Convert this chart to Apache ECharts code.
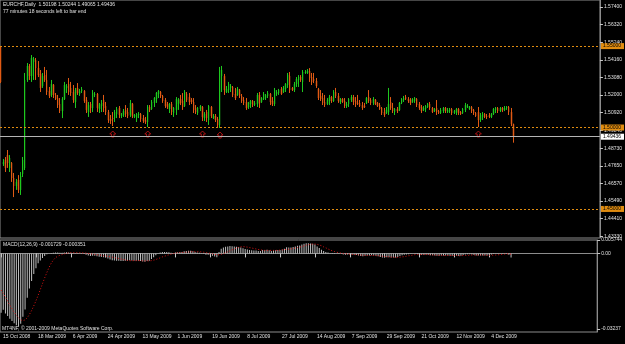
<!DOCTYPE html>
<html>
<head>
<meta charset="utf-8">
<title>EURCHF Daily</title>
<script src="https://cdn.jsdelivr.net/npm/echarts@6/dist/echarts.min.js"></script>
<style>
  html, body { margin: 0; padding: 0; background: #000; }
  #chart { width: 625px; height: 344px; }
</style>
</head>
<body>
<div id="chart"></div>
<script>
// date labels under the MACD pane, one every 16 bars
var tickLabels = ['15 Oct 2008', '18 Mar 2009', '6 Apr 2009', '24 Apr 2009', '13 May 2009', '1 Jun 2009',
  '19 Jun 2009', '8 Jul 2009', '27 Jul 2009', '14 Aug 2009', '7 Sep 2009', '29 Sep 2009',
  '21 Oct 2009', '12 Nov 2009', '4 Dec 2009'];
var barsPerLabel = 16;
var slots = 274; // bar slots across the pane, the right part stays empty

var opens = [
  1.5494, 1.4776, 1.4801, 1.4831, 1.4752, 1.4782, 1.4690, 1.4641, 1.4678, 1.4617,
  1.4715, 1.4752, 1.5292, 1.5378, 1.5316, 1.5402, 1.5415, 1.5365, 1.5329, 1.5255,
  1.5322, 1.5292, 1.5224, 1.5200, 1.5261, 1.5200, 1.5181, 1.5144, 1.5101, 1.5175,
  1.5243, 1.5267, 1.5243, 1.5218, 1.5157, 1.5243, 1.5206, 1.5224, 1.5224, 1.5169,
  1.5095, 1.5144, 1.5120, 1.5200, 1.5206, 1.5114, 1.5132, 1.5169, 1.5132, 1.5095,
  1.5052, 1.5058, 1.5058, 1.5083, 1.5120, 1.5071, 1.5077, 1.5108, 1.5095, 1.5077,
  1.5144, 1.5065, 1.5058, 1.5077, 1.5083, 1.5058, 1.5046, 1.5034, 1.5126, 1.5114,
  1.5151, 1.5175, 1.5206, 1.5218, 1.5194, 1.5169, 1.5144, 1.5114, 1.5144, 1.5089,
  1.5108, 1.5144, 1.5175, 1.5163, 1.5132, 1.5206, 1.5187, 1.5169, 1.5157, 1.5120,
  1.5089, 1.5114, 1.5126, 1.5058, 1.5095, 1.5046, 1.5126, 1.5058, 1.5071, 1.5052,
  1.5016, 1.5316, 1.5316, 1.5218, 1.5230, 1.5243, 1.5249, 1.5206, 1.5200, 1.5230,
  1.5194, 1.5169, 1.5157, 1.5126, 1.5144, 1.5163, 1.5138, 1.5144, 1.5200, 1.5157,
  1.5175, 1.5181, 1.5194, 1.5206, 1.5163, 1.5144, 1.5206, 1.5212, 1.5237, 1.5218,
  1.5237, 1.5261, 1.5316, 1.5243, 1.5230, 1.5267, 1.5292, 1.5310, 1.5280, 1.5335,
  1.5335, 1.5347, 1.5310, 1.5298, 1.5286, 1.5237, 1.5194, 1.5181, 1.5157, 1.5144,
  1.5163, 1.5187, 1.5163, 1.5218, 1.5194, 1.5157, 1.5175, 1.5163, 1.5132, 1.5144,
  1.5169, 1.5187, 1.5163, 1.5151, 1.5151, 1.5138, 1.5132, 1.5151, 1.5187, 1.5169,
  1.5151, 1.5169, 1.5151, 1.5138, 1.5120, 1.5095, 1.5089, 1.5095, 1.5157, 1.5120,
  1.5095, 1.5114, 1.5108, 1.5151, 1.5169, 1.5187, 1.5175, 1.5169, 1.5157, 1.5163,
  1.5175, 1.5144, 1.5126, 1.5108, 1.5114, 1.5126, 1.5144, 1.5120, 1.5101, 1.5120,
  1.5101, 1.5089, 1.5101, 1.5120, 1.5095, 1.5101, 1.5114, 1.5089, 1.5095, 1.5114,
  1.5095, 1.5089, 1.5108, 1.5126, 1.5114, 1.5126, 1.5108, 1.5089, 1.5095, 1.5046,
  1.5065, 1.5083, 1.5071, 1.5077, 1.5065, 1.5083, 1.5108, 1.5120, 1.5101, 1.5120,
  1.5108, 1.5120, 1.5126, 1.5095, 1.5020
];
var closes = [
  1.5280, 1.4788, 1.4752, 1.4782, 1.4813, 1.4690, 1.4641, 1.4666, 1.4617, 1.4702,
  1.4801, 1.5292, 1.5378, 1.5316, 1.5427, 1.5421, 1.5365, 1.5322, 1.5243, 1.5316,
  1.5292, 1.5218, 1.5194, 1.5267, 1.5200, 1.5175, 1.5138, 1.5101, 1.5175, 1.5261,
  1.5255, 1.5218, 1.5212, 1.5169, 1.5230, 1.5212, 1.5224, 1.5237, 1.5163, 1.5108,
  1.5138, 1.5120, 1.5212, 1.5206, 1.5120, 1.5144, 1.5151, 1.5120, 1.5095, 1.5046,
  1.5040, 1.5052, 1.5095, 1.5114, 1.5077, 1.5077, 1.5101, 1.5083, 1.5071, 1.5151,
  1.5071, 1.5077, 1.5083, 1.5083, 1.5052, 1.5040, 1.5034, 1.5126, 1.5108, 1.5157,
  1.5181, 1.5212, 1.5224, 1.5194, 1.5163, 1.5132, 1.5126, 1.5144, 1.5095, 1.5120,
  1.5175, 1.5169, 1.5151, 1.5126, 1.5218, 1.5169, 1.5157, 1.5157, 1.5108, 1.5095,
  1.5120, 1.5132, 1.5065, 1.5083, 1.5058, 1.5132, 1.5071, 1.5071, 1.5046, 1.5016,
  1.5353, 1.5353, 1.5230, 1.5237, 1.5267, 1.5255, 1.5200, 1.5181, 1.5237, 1.5194,
  1.5163, 1.5151, 1.5120, 1.5151, 1.5163, 1.5138, 1.5151, 1.5200, 1.5151, 1.5181,
  1.5206, 1.5200, 1.5212, 1.5157, 1.5144, 1.5230, 1.5218, 1.5230, 1.5206, 1.5243,
  1.5267, 1.5322, 1.5230, 1.5230, 1.5267, 1.5298, 1.5310, 1.5292, 1.5341, 1.5341,
  1.5347, 1.5304, 1.5280, 1.5286, 1.5255, 1.5181, 1.5175, 1.5151, 1.5138, 1.5169,
  1.5187, 1.5163, 1.5218, 1.5194, 1.5163, 1.5175, 1.5157, 1.5132, 1.5144, 1.5175,
  1.5187, 1.5157, 1.5144, 1.5144, 1.5132, 1.5120, 1.5126, 1.5181, 1.5163, 1.5151,
  1.5175, 1.5144, 1.5132, 1.5114, 1.5089, 1.5077, 1.5108, 1.5144, 1.5120, 1.5101,
  1.5114, 1.5101, 1.5151, 1.5175, 1.5181, 1.5175, 1.5163, 1.5151, 1.5175, 1.5181,
  1.5138, 1.5120, 1.5101, 1.5120, 1.5132, 1.5144, 1.5120, 1.5095, 1.5114, 1.5095,
  1.5089, 1.5108, 1.5120, 1.5101, 1.5108, 1.5114, 1.5089, 1.5101, 1.5114, 1.5089,
  1.5083, 1.5114, 1.5138, 1.5132, 1.5126, 1.5101, 1.5089, 1.5071, 1.5046, 1.5077,
  1.5083, 1.5065, 1.5065, 1.5065, 1.5083, 1.5114, 1.5120, 1.5101, 1.5120, 1.5108,
  1.5120, 1.5126, 1.5095, 1.5022, 1.4944
];
var lows = [
  1.5273, 1.4764, 1.4727, 1.4752, 1.4727, 1.4666, 1.4573, 1.4617, 1.4598, 1.4586,
  1.4696, 1.4739, 1.5280, 1.5292, 1.5280, 1.5292, 1.5292, 1.5310, 1.5218, 1.5243,
  1.5280, 1.5200, 1.5181, 1.5187, 1.5181, 1.5169, 1.5120, 1.5089, 1.5058, 1.5169,
  1.5212, 1.5200, 1.5194, 1.5151, 1.5120, 1.5200, 1.5194, 1.5212, 1.5151, 1.5089,
  1.5065, 1.5089, 1.5095, 1.5187, 1.5095, 1.5089, 1.5095, 1.5095, 1.5077, 1.5028,
  1.5022, 1.5009, 1.5034, 1.5058, 1.5058, 1.5058, 1.5065, 1.5065, 1.5058, 1.5065,
  1.5058, 1.5058, 1.5034, 1.5058, 1.5034, 1.5028, 1.5022, 1.5003, 1.5095, 1.5108,
  1.5126, 1.5151, 1.5181, 1.5181, 1.5151, 1.5120, 1.5114, 1.5089, 1.5077, 1.5065,
  1.5077, 1.5108, 1.5138, 1.5108, 1.5126, 1.5157, 1.5138, 1.5144, 1.5089, 1.5083,
  1.5077, 1.5101, 1.5040, 1.5040, 1.5034, 1.5016, 1.5058, 1.5052, 1.5034, 1.5003,
  1.4997, 1.5218, 1.5200, 1.5212, 1.5212, 1.5218, 1.5187, 1.5169, 1.5194, 1.5181,
  1.5151, 1.5138, 1.5108, 1.5114, 1.5120, 1.5126, 1.5132, 1.5126, 1.5120, 1.5151,
  1.5169, 1.5169, 1.5181, 1.5138, 1.5132, 1.5132, 1.5194, 1.5200, 1.5200, 1.5212,
  1.5218, 1.5243, 1.5212, 1.5224, 1.5218, 1.5249, 1.5249, 1.5280, 1.5218, 1.5329,
  1.5329, 1.5280, 1.5261, 1.5273, 1.5243, 1.5169, 1.5163, 1.5138, 1.5126, 1.5138,
  1.5138, 1.5151, 1.5157, 1.5181, 1.5151, 1.5144, 1.5151, 1.5120, 1.5120, 1.5126,
  1.5157, 1.5138, 1.5126, 1.5138, 1.5126, 1.5108, 1.5120, 1.5144, 1.5151, 1.5138,
  1.5138, 1.5138, 1.5126, 1.5108, 1.5077, 1.5065, 1.5083, 1.5077, 1.5108, 1.5089,
  1.5077, 1.5089, 1.5101, 1.5144, 1.5157, 1.5169, 1.5151, 1.5138, 1.5151, 1.5151,
  1.5126, 1.5108, 1.5089, 1.5101, 1.5095, 1.5120, 1.5108, 1.5089, 1.5095, 1.5077,
  1.5083, 1.5083, 1.5089, 1.5089, 1.5089, 1.5089, 1.5077, 1.5083, 1.5077, 1.5077,
  1.5077, 1.5083, 1.5095, 1.5120, 1.5108, 1.5089, 1.5077, 1.5065, 1.5003, 1.5034,
  1.5046, 1.5058, 1.5052, 1.5058, 1.5058, 1.5077, 1.5089, 1.5089, 1.5095, 1.5095,
  1.5101, 1.5108, 1.5077, 1.5009, 1.4907
];
var highs = [
  1.5501, 1.4807, 1.4819, 1.4862, 1.4831, 1.4788, 1.4721, 1.4684, 1.4708, 1.4727,
  1.4819, 1.5335, 1.5396, 1.5390, 1.5445, 1.5433, 1.5427, 1.5408, 1.5353, 1.5335,
  1.5372, 1.5353, 1.5249, 1.5292, 1.5267, 1.5212, 1.5200, 1.5181, 1.5187, 1.5280,
  1.5267, 1.5304, 1.5280, 1.5261, 1.5243, 1.5273, 1.5237, 1.5249, 1.5230, 1.5187,
  1.5157, 1.5157, 1.5230, 1.5218, 1.5212, 1.5151, 1.5169, 1.5200, 1.5157, 1.5108,
  1.5077, 1.5095, 1.5108, 1.5126, 1.5132, 1.5089, 1.5114, 1.5138, 1.5120, 1.5169,
  1.5151, 1.5083, 1.5089, 1.5095, 1.5089, 1.5077, 1.5065, 1.5138, 1.5138, 1.5169,
  1.5187, 1.5218, 1.5230, 1.5224, 1.5200, 1.5181, 1.5157, 1.5151, 1.5157, 1.5126,
  1.5187, 1.5181, 1.5200, 1.5212, 1.5230, 1.5218, 1.5212, 1.5181, 1.5181, 1.5138,
  1.5126, 1.5138, 1.5132, 1.5095, 1.5108, 1.5138, 1.5132, 1.5083, 1.5083, 1.5065,
  1.5372, 1.5378, 1.5329, 1.5255, 1.5280, 1.5267, 1.5255, 1.5243, 1.5249, 1.5237,
  1.5206, 1.5187, 1.5181, 1.5157, 1.5169, 1.5169, 1.5163, 1.5212, 1.5218, 1.5187,
  1.5218, 1.5206, 1.5224, 1.5212, 1.5187, 1.5243, 1.5230, 1.5237, 1.5249, 1.5255,
  1.5273, 1.5335, 1.5341, 1.5249, 1.5280, 1.5310, 1.5322, 1.5322, 1.5353, 1.5353,
  1.5359, 1.5365, 1.5335, 1.5335, 1.5304, 1.5243, 1.5230, 1.5212, 1.5200, 1.5181,
  1.5200, 1.5194, 1.5230, 1.5243, 1.5212, 1.5181, 1.5181, 1.5181, 1.5157, 1.5181,
  1.5200, 1.5200, 1.5187, 1.5200, 1.5169, 1.5157, 1.5151, 1.5187, 1.5230, 1.5181,
  1.5187, 1.5175, 1.5157, 1.5151, 1.5126, 1.5120, 1.5126, 1.5243, 1.5187, 1.5151,
  1.5120, 1.5126, 1.5157, 1.5181, 1.5194, 1.5200, 1.5187, 1.5181, 1.5181, 1.5187,
  1.5181, 1.5157, 1.5138, 1.5132, 1.5138, 1.5151, 1.5157, 1.5126, 1.5120, 1.5169,
  1.5108, 1.5120, 1.5126, 1.5126, 1.5120, 1.5120, 1.5120, 1.5108, 1.5120, 1.5120,
  1.5101, 1.5120, 1.5151, 1.5144, 1.5132, 1.5132, 1.5114, 1.5095, 1.5126, 1.5089,
  1.5095, 1.5089, 1.5083, 1.5089, 1.5089, 1.5120, 1.5126, 1.5126, 1.5126, 1.5126,
  1.5132, 1.5132, 1.5132, 1.5120, 1.5024
];

// MACD(12,26,9): main line (histogram) and signal line (dotted)
var macdMain = [
  -0.0254, -0.0242, -0.0258, -0.0268, -0.0280, -0.0290, -0.0300, -0.0308, -0.0314, -0.0302,
  -0.0272, -0.0240, -0.0190, -0.0150, -0.0118, -0.0088, -0.0064, -0.0042, -0.0030, -0.0020,
  -0.0011, -0.0004, 0.0000, 0.0002, 0.0003, 0.0004, 0.0004, 0.0003, 0.0003, 0.0004,
  0.0005, 0.0004, 0.0003, 0.0002, 0.0001, 0.0001, 0.0000, -0.0001, -0.0003, -0.0006,
  -0.0009, -0.0011, -0.0010, -0.0010, -0.0012, -0.0014, -0.0015, -0.0016, -0.0018, -0.0022,
  -0.0026, -0.0029, -0.0030, -0.0031, -0.0032, -0.0033, -0.0033, -0.0032, -0.0032, -0.0029,
  -0.0030, -0.0031, -0.0032, -0.0032, -0.0033, -0.0035, -0.0036, -0.0033, -0.0031, -0.0024,
  -0.0016, -0.0008, -0.0001, 0.0004, 0.0006, 0.0006, 0.0006, 0.0005, 0.0003, 0.0002,
  0.0004, 0.0005, 0.0006, 0.0006, 0.0009, 0.0010, 0.0011, 0.0011, 0.0009, 0.0006,
  0.0004, 0.0003, -0.0001, -0.0003, -0.0006, -0.0006, -0.0008, -0.0010, -0.0013, -0.0017,
  0.0006, 0.0020, 0.0025, 0.0028, 0.0030, 0.0032, 0.0031, 0.0030, 0.0029, 0.0027,
  0.0025, 0.0022, 0.0019, 0.0017, 0.0015, 0.0013, 0.0012, 0.0012, 0.0010, 0.0010,
  0.0015, 0.0015, 0.0016, 0.0013, 0.0010, 0.0012, 0.0013, 0.0015, 0.0015, 0.0017,
  0.0020, 0.0026, 0.0025, 0.0025, 0.0027, 0.0030, 0.0033, 0.0034, 0.0038, 0.0041,
  0.0044, 0.0044, 0.0042, 0.0041, 0.0038, 0.0030, 0.0023, 0.0016, 0.0010, 0.0006,
  0.0004, 0.0001, 0.0002, 0.0002, 0.0000, -0.0001, -0.0002, -0.0005, -0.0006, -0.0005,
  -0.0004, -0.0005, -0.0006, -0.0007, -0.0009, -0.0011, -0.0012, -0.0010, -0.0009, -0.0009,
  -0.0008, -0.0009, -0.0010, -0.0012, -0.0015, -0.0018, -0.0018, -0.0016, -0.0017, -0.0018,
  -0.0018, -0.0018, -0.0015, -0.0011, -0.0008, -0.0006, -0.0005, -0.0004, -0.0002, 0.0000,
  -0.0001, -0.0003, -0.0006, -0.0007, -0.0007, -0.0006, -0.0006, -0.0008, -0.0008, -0.0009,
  -0.0010, -0.0010, -0.0009, -0.0009, -0.0009, -0.0009, -0.0010, -0.0010, -0.0009, -0.0010,
  -0.0011, -0.0010, -0.0007, -0.0005, -0.0004, -0.0004, -0.0005, -0.0007, -0.0009, -0.0009,
  -0.0009, -0.0009, -0.0009, -0.0009, -0.0008, -0.0005, -0.0003, -0.0002, -0.0001, 0.0000,
  0.0001, 0.0002, 0.0001, -0.0006, -0.001729
];
var macdSignal = [
  -0.0157, -0.0172, -0.0188, -0.0205, -0.0222, -0.0238, -0.0252, -0.0265, -0.0276, -0.0285,
  -0.0288, -0.0285, -0.0276, -0.0262, -0.0245, -0.0225, -0.0203, -0.0180, -0.0155, -0.0130,
  -0.0105, -0.0082, -0.0060, -0.0042, -0.0028, -0.0018, -0.0012, -0.0008, -0.0005, -0.0002,
  0.0000, 0.0002, 0.0003, 0.0003, 0.0003, 0.0003, 0.0003, 0.0002, 0.0002, 0.0001,
  0.0000, -0.0002, -0.0003, -0.0004, -0.0006, -0.0007, -0.0008, -0.0010, -0.0011, -0.0013,
  -0.0014, -0.0016, -0.0018, -0.0020, -0.0022, -0.0024, -0.0026, -0.0028, -0.0030, -0.0031,
  -0.0031, -0.0031, -0.0031, -0.0031, -0.0031, -0.0032, -0.0032, -0.0032, -0.0032, -0.0031,
  -0.0029, -0.0026, -0.0023, -0.0019, -0.0015, -0.0012, -0.0009, -0.0006, -0.0003, -0.0001,
  0.0001, 0.0003, 0.0004, 0.0004, 0.0005, 0.0005, 0.0006, 0.0007, 0.0007, 0.0007,
  0.0007, 0.0007, 0.0006, 0.0005, 0.0003, 0.0002, 0.0000, -0.0002, -0.0004, -0.0006,
  -0.0006, -0.0004, -0.0001, 0.0003, 0.0007, 0.0011, 0.0015, 0.0019, 0.0023, 0.0026,
  0.0028, 0.0029, 0.0028, 0.0027, 0.0025, 0.0023, 0.0021, 0.0019, 0.0017, 0.0015,
  0.0014, 0.0013, 0.0013, 0.0013, 0.0013, 0.0013, 0.0013, 0.0013, 0.0014, 0.0015,
  0.0016, 0.0017, 0.0018, 0.0019, 0.0021, 0.0023, 0.0025, 0.0027, 0.0029, 0.0032,
  0.0035, 0.0037, 0.0039, 0.0040, 0.0040, 0.0039, 0.0036, 0.0033, 0.0028, 0.0024,
  0.0019, 0.0015, 0.0011, 0.0008, 0.0005, 0.0003, 0.0001, 0.0000, -0.0001, -0.0002,
  -0.0003, -0.0004, -0.0005, -0.0005, -0.0006, -0.0007, -0.0008, -0.0008, -0.0009, -0.0009,
  -0.0009, -0.0009, -0.0010, -0.0010, -0.0011, -0.0012, -0.0013, -0.0014, -0.0015, -0.0016,
  -0.0016, -0.0017, -0.0017, -0.0016, -0.0015, -0.0014, -0.0012, -0.0010, -0.0009, -0.0007,
  -0.0005, -0.0005, -0.0005, -0.0005, -0.0005, -0.0005, -0.0005, -0.0006, -0.0007, -0.0007,
  -0.0008, -0.0008, -0.0008, -0.0009, -0.0009, -0.0009, -0.0009, -0.0009, -0.0009, -0.0009,
  -0.0010, -0.0010, -0.0009, -0.0009, -0.0008, -0.0008, -0.0007, -0.0007, -0.0007, -0.0007,
  -0.0007, -0.0007, -0.0007, -0.0008, -0.0008, -0.0008, -0.0007, -0.0007, -0.0006, -0.0005,
  -0.0004, -0.0003, -0.0002, -0.0002, -0.000351
];

// fractal arrows under local lows
var fractalBars = [51, 67, 92, 100, 218];
var fractalPrices = [1.4960, 1.4960, 1.4960, 1.4954, 1.4960];

// horizontal levels and current bid
var levels = [1.55, 1.50, 1.45];
var bid = 1.49436;

// price scale
var priceMin = 1.43217, priceMax = 1.5783;
var priceTicks = [1.574, 1.5632, 1.5524, 1.5416, 1.5308, 1.52, 1.5092, 1.4984, 1.4873,
  1.4765, 1.4657, 1.4549, 1.4441, 1.4333];
var macdMin = -0.0337, macdMax = 0.005744;
var macdTicks = [0.005744, 0, -0.03237];
var macdTickText = ['0.005744', '0.00', '-0.03237'];

var categories = [];
for (var i = 0; i < slots; i++) {
  categories.push(i % barsPerLabel === 0 && tickLabels[i / barsPerLabel] ? tickLabels[i / barsPerLabel] : '');
}

var candles = opens.map(function (o, i) { return [o, closes[i], lows[i], highs[i]]; });
var bodies = opens.map(function (o, i) {
  return [o, closes[i], Math.min(o, closes[i]), Math.max(o, closes[i])];
});
var fractals = fractalBars.map(function (b, i) { return [b, fractalPrices[i]]; });

var font = 'Liberation Sans';
var txt = '#e0e0e0';
var frame = '#8c8c8c';
var orange = '#e08c10';

function hasLabel(i, v) { return v !== ''; }

var levelLines = levels.map(function (v) {
  return {
    yAxis: v,
    lineStyle: { color: orange, type: [2, 2], width: 1 },
    label: { formatter: v.toFixed(5), backgroundColor: orange }
  };
});
levelLines.push({
  yAxis: bid,
  lineStyle: { color: '#b4b4b4', type: 'solid', width: 1 },
  label: { formatter: bid.toFixed(5), backgroundColor: '#ffffff' }
});

var myChart = echarts.init(document.getElementById('chart'));
var option = {
  backgroundColor: '#000000',
  animation: false,
  textStyle: { fontFamily: font },
  grid: [
    { left: 0, right: 22, top: 0, height: 238, show: true, borderColor: frame, borderWidth: 1 },
    { left: 0, right: 22, top: 240, height: 92, show: true, borderColor: frame, borderWidth: 1 }
  ],
  xAxis: [
    {
      type: 'category', gridIndex: 0, data: categories,
      axisLine: { show: false }, axisTick: { show: false }, axisLabel: { show: false }
    },
    {
      type: 'category', gridIndex: 1, data: categories,
      axisLine: { show: true, lineStyle: { color: frame } },
      axisTick: { show: true, interval: hasLabel, alignWithLabel: true, length: 4, lineStyle: { color: '#c8c8c8' } },
      axisLabel: { interval: hasLabel, align: 'left', margin: 2, padding: [0, 0, 0, 2], color: txt, fontSize: 5, fontFamily: font }
    }
  ],
  yAxis: [
    {
      type: 'value', gridIndex: 0, position: 'right', min: priceMin, max: priceMax,
      splitLine: { show: false },
      axisLine: { show: true, lineStyle: { color: frame } },
      axisTick: { show: true, customValues: priceTicks, length: 3, lineStyle: { color: '#c8c8c8' } },
      axisLabel: {
        customValues: priceTicks, margin: 4, color: txt, fontSize: 5, fontFamily: font,
        formatter: function (v) { return v.toFixed(5); }
      }
    },
    {
      type: 'value', gridIndex: 1, position: 'right', min: macdMin, max: macdMax,
      splitLine: { show: false },
      axisLine: { show: true, lineStyle: { color: frame } },
      axisTick: { show: true, customValues: macdTicks, length: 3, lineStyle: { color: '#c8c8c8' } },
      axisLabel: {
        customValues: macdTicks, margin: 4, color: txt, fontSize: 5, fontFamily: font,
        formatter: function (v) { return macdTickText[macdTicks.indexOf(v)]; }
      }
    }
  ],
  graphic: [
    { type: 'text', left: 3, top: 2, style: { text: 'EURCHF,Daily  1.50198 1.50244 1.49065 1.49436', fill: txt, font: '5px ' + font } },
    { type: 'text', left: 3, top: 9, style: { text: '77 minutes 18 seconds left to bar end', fill: txt, font: '5px ' + font } },
    { type: 'text', left: 3, top: 242, style: { text: 'MACD(12,26,9) -0.001729 -0.000351', fill: txt, font: '5px ' + font } },
    { type: 'text', left: 2, top: 326, style: { text: 'MT4NF, \u00a9 2001-2009 MetaQuotes Software Corp.', fill: txt, font: '5px ' + font } }
  ],
  series: [
    {
      name: 'body', type: 'candlestick', xAxisIndex: 0, yAxisIndex: 0, barWidth: 2,
      data: bodies, z: 2,
      itemStyle: { color: '#0c5a0c', color0: '#6e2a08', borderColor: '#0c5a0c', borderColor0: '#6e2a08', borderWidth: 0 }
    },
    {
      name: 'EURCHF', type: 'candlestick', xAxisIndex: 0, yAxisIndex: 0, barWidth: 0.4,
      data: candles, z: 3,
      itemStyle: { color: '#1ec81e', color0: '#e05a14', borderColor: '#1ec81e', borderColor0: '#e05a14', borderWidth: 1 },
      markLine: {
        symbol: ['none', 'none'], silent: true, animation: false, precision: 5,
        label: { position: 'end', distance: 1, color: '#000', fontSize: 5, fontFamily: font, padding: [1, 3, 0, 2] },
        data: levelLines
      }
    },
    {
      name: 'fractals', type: 'scatter', xAxisIndex: 0, yAxisIndex: 0, z: 4,
      symbol: 'path://M5,0 L10,5 L7,5 L7,10 L3,10 L3,5 L0,5 Z', symbolSize: [6, 6],
      itemStyle: { color: 'rgba(0,0,0,0)', borderColor: '#d01818', borderWidth: 1 },
      data: fractals
    },
    {
      name: 'MACD', type: 'bar', xAxisIndex: 1, yAxisIndex: 1, barWidth: 1,
      itemStyle: { color: '#c0c0c0' }, data: macdMain
    },
    {
      name: 'Signal', type: 'line', xAxisIndex: 1, yAxisIndex: 1, symbol: 'none',
      lineStyle: { color: '#e01414', width: 1, type: [1, 2] }, data: macdSignal
    }
  ]
};
myChart.setOption(option);
</script>
</body>
</html>
